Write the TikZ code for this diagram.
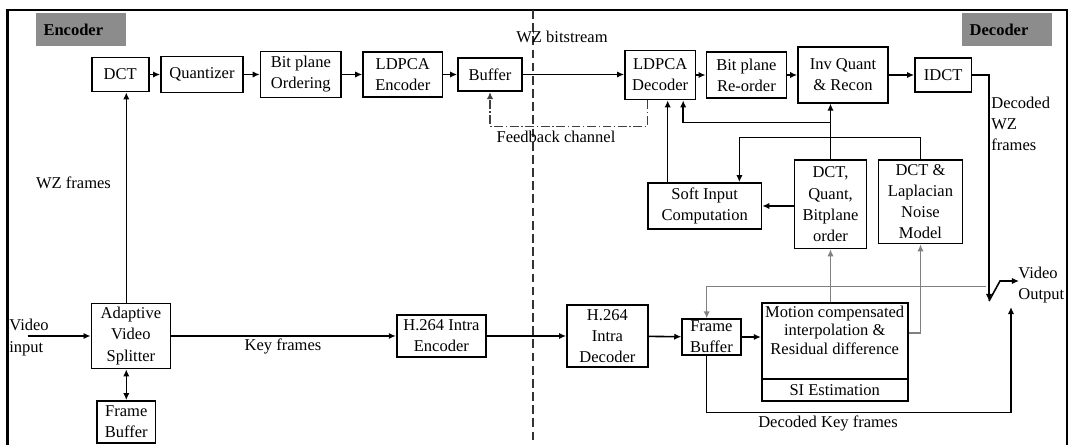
\documentclass[tikz,border=0pt]{standalone}
\usepackage{fontspec}
\setmainfont{Liberation Serif}
\usetikzlibrary{arrows.meta,calc}

\newcommand{\fs}{\fontsize{9.4}{12}\selectfont}
\tikzset{
  blk/.style={draw, line width=1pt, align=center, inner sep=1pt, font=\fs},
  hdr/.style={fill=black!45, text width=1.5cm, align=left, inner xsep=0.15cm,
    minimum height=0.66cm, font=\fs\bfseries},
  lbl/.style={font=\fs, align=left, inner sep=0pt},
  arr/.style={-{Latex[length=4pt,width=3.6pt]}, line width=0.9pt},
  darr/.style={{Latex[length=4pt,width=3.6pt]}-{Latex[length=4pt,width=3.6pt]}, line width=0.9pt},
  garr/.style={-{Latex[length=4pt,width=3.6pt]}, line width=0.8pt, black!50},
  fbk/.style={-{Latex[length=4pt,width=3.6pt]}, line width=0.7pt, black!75,
    dash pattern=on 5pt off 1.5pt on 0.8pt off 1.5pt}
}

\begin{document}
\begin{tikzpicture}[x=0.02cm, y=-0.02cm]
  \useasboundingbox (0,0) rectangle (1069,445);
  % frame and encoder/decoder split
  \draw[line width=1.3pt] (7.6,445) -- (7.6,10) -- (1067,10) -- (1067,445);
  \draw[line width=0.6pt, black!80, dash pattern=on 5pt off 2.5pt] (533,10) -- (533,445);
  \node[hdr] (enc) at (81,29.7) {Encoder};
  \node[hdr] (dec) at (1007.2,29.5) {Decoder};

  % encoder: WZ path
  \node[blk, minimum width=1.14cm, minimum height=0.68cm] (dct) at (120.2,74.5) {DCT};
  \node[blk, minimum width=1.64cm, minimum height=0.72cm] (quant) at (202,74.5) {Quantizer};
  \node[blk, minimum width=1.61cm, minimum height=0.92cm] (bpo) at (300.8,74.5) {Bit plane\\Ordering};
  \node[blk, minimum width=1.59cm, minimum height=0.90cm] (ldpcae) at (402.8,74.5) {LDPCA\\Encoder};
  \node[blk, minimum width=1.28cm, minimum height=0.67cm] (bufe) at (490,74.5) {Buffer};

  % encoder: key frame path
  \node[blk, minimum width=1.58cm, minimum height=1.30cm] (split) at (130.9,336) {Adaptive\\Video\\Splitter};
  \node[blk, minimum width=1.17cm, minimum height=0.84cm] (fbe) at (126.3,422) {Frame\\Buffer};
  \node[blk, minimum width=1.79cm, minimum height=0.85cm] (h264e) at (441.4,336) {H.264 Intra\\Encoder};

  % decoder: WZ path
  \node[blk, minimum width=1.41cm, minimum height=0.98cm] (ldpcad) at (660.2,75) {LDPCA\\Decoder};
  \node[blk, minimum width=1.60cm, minimum height=0.91cm] (bpr) at (746.4,75) {Bit plane\\Re-order};
  \node[blk, minimum width=1.80cm, minimum height=1.11cm] (iq) at (843,75) {Inv Quant\\\& Recon};
  \node[blk, minimum width=1.13cm, minimum height=0.67cm] (idct) at (943.2,75) {IDCT};
  \node[blk, minimum width=2.27cm, minimum height=0.92cm] (soft) at (704.7,206) {Soft Input\\Computation};
  \node[blk, minimum width=1.44cm, minimum height=1.77cm] (dqb) at (830.5,204.2) {DCT,\\Quant,\\Bitplane\\order};
  \node[blk, minimum width=1.68cm, minimum height=1.67cm] (lap) at (920.5,201.7) {DCT \&\\Laplacian\\Noise\\Model};

  % decoder: key frame path and SI
  \node[blk, minimum width=1.62cm, minimum height=1.25cm] (h264d) at (607.4,336) {H.264\\Intra\\Decoder};
  \node[blk, minimum width=1.17cm, minimum height=0.71cm] (fbd) at (711.4,337) {Frame\\Buffer};
  \node[blk, minimum width=2.92cm, minimum height=1.95cm] (mc) at (834.7,352) {};
  \node[lbl, align=center, anchor=north, font=\fontsize{9.4}{10.6}\selectfont] (mct) at (834.7,305.5)
    {Motion compensated\\interpolation \&\\Residual difference};
  \draw[line width=1pt] ($(mc.south west)+(0,-22.4)$) -- ($(mc.south east)+(0,-22.4)$);
  \node[lbl] (sie) at (834.7,390) {SI Estimation};

  % labels
  \node[lbl] (wzb) at (562,37) {WZ bitstream};
  \node[lbl] (wzf) at (73.5,182.7) {WZ frames};
  \node[lbl] (kf) at (283,346.7) {Key frames};
  \node[lbl] (fbl) at (556,137) {Feedback channel};
  \node[lbl, anchor=west] (vil) at (9,337.5) {Video\\input};
  \node[lbl, anchor=west] (dwz) at (991,123.5) {Decoded\\WZ\\frames};
  \node[lbl, anchor=west] (vol) at (1018,285) {Video\\Output};
  \node[lbl] (dkf) at (828,423.3) {Decoded Key frames};

  % encoder connectors
  \coordinate (vin) at (27.5,336);
  \draw[arr] (vin) -- (split.west);
  \draw[arr] (fbe.north |- split.north) -- (fbe.north |- dct.south);
  \draw[darr] (fbe.north |- split.south) -- (fbe.north);
  \draw[arr] (dct) -- (quant);
  \draw[arr] (quant) -- (bpo);
  \draw[arr] (bpo) -- (ldpcae);
  \draw[arr] (ldpcae) -- (bufe);
  \draw[arr] (split) -- (h264e);

  % channel
  \draw[arr] (bufe.east) -- (bufe.east -| ldpcad.west);
  \draw[arr] (h264e) -- (h264d);
  \draw[fbk] ($(ldpcad.south)+(-13,0)$) -- ++(0,26) -| (bufe.south);

  % decoder connectors
  \draw[arr] (ldpcad) -- (bpr);
  \draw[arr] (bpr) -- (iq);
  \draw[arr] (iq) -- (idct);
  \coordinate (sw) at (989,301);
  \coordinate (swk) at (1000,281);
  \coordinate (vout) at (1019,281);
  \draw[arr] (idct.east) -| (sw);
  \draw[arr] (sw) -- (swk) -- (vout);
  \draw[arr] (dqb.north) -- (dqb.north |- iq.south);
  \coordinate (jn) at (830.5,122.7);
  \draw[arr] (jn) -| ($(ldpcad.south)+(23,0)$);
  \draw[arr] ($(soft.north)+(-37,0)$) coordinate (s1) -- (s1 |- ldpcad.south);
  \draw[arr] (lap.north) -- ++(0,-21.7) -| ($(soft.north)+(34.7,0)$);
  \draw[arr] (dqb.west |- soft.east) -- (soft.east);
  \draw[arr] (h264d) -- (fbd);
  \draw[arr] (fbd.east) -- (fbd.east -| mc.west);
  \coordinate (kbot) at (1011,412.7);
  \coordinate (kout) at (1011,307);
  \draw[arr] ($(fbd.south)+(-4.7,0)$) |- (kbot) -- (kout);

  % side information (gray)
  \coordinate (wzg) at (986,286.7);
  \draw[garr] (wzg) -| ($(fbd.north)+(-4.7,0)$);
  \draw[garr] (mc.north -| dqb.south) -- (dqb.south);
  \draw[garr] ($(mc.north east)!0.31!(mc.south east)$) -| (lap.south);
\end{tikzpicture}
\end{document}
